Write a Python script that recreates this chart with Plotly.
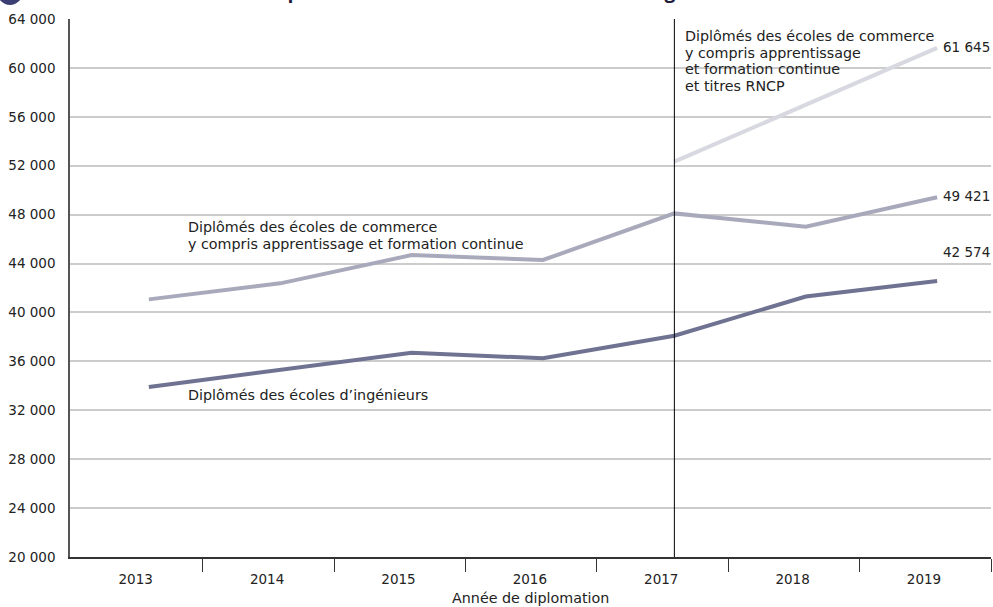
import plotly.graph_objects as go

years = [2013, 2014, 2015, 2016, 2017, 2018, 2019]
ingenieurs = [33900, 35300, 36700, 36250, 38100, 41300, 42574]
commerce = [41070, 42380, 44690, 44290, 48100, 47010, 49421]
rncp_years = [2017, 2018, 2019]
commerce_rncp = [52330, 57000, 61645]

y_ticks = [20000, 24000, 28000, 32000, 36000, 40000, 44000, 48000, 52000, 56000, 60000, 64000]
y_ticktext = [f"{v:,}".replace(",", " ") for v in y_ticks]

title = "Évolution du nombre de diplômés des écoles de commerce et d’ingénieurs"
x_title = "Année de diplomation"
label_rncp = ["Diplômés des écoles de commerce", "y compris apprentissage",
              "et formation continue", "et titres RNCP"]
label_commerce = ["Diplômés des écoles de commerce",
                  "y compris apprentissage et formation continue"]
label_ing = ["Diplômés des écoles d’ingénieurs"]

FONT = "DejaVu Sans, Verdana, sans-serif"
TITLE_FONT = "Open Sans, Liberation Sans, Arial, sans-serif"
FS = 13.5           # tick and value labels
GLYPH = 14.3        # glyph size of the series labels
SPACING_FS = 12.85  # base size giving ~16.7 px line spacing
C_ING = "#6f7290"
C_COM = "#a8aabc"
C_RNCP = "#d8d9e0"
TXT = "#222222"

fmt = lambda v: f"{v:,}".replace(",", " ")

fig = go.Figure()
fig.add_trace(go.Scatter(x=years, y=ingenieurs, mode="lines",
                         line=dict(color=C_ING, width=4), hoverinfo="skip"))
fig.add_trace(go.Scatter(x=years, y=commerce, mode="lines",
                         line=dict(color=C_COM, width=4), hoverinfo="skip"))
fig.add_trace(go.Scatter(x=rncp_years, y=commerce_rncp, mode="lines",
                         line=dict(color=C_RNCP, width=4), hoverinfo="skip"))

# vertical separator at 2017
fig.add_shape(type="line", xref="x", yref="paper", x0=2017, x1=2017, y0=0, y1=1,
              line=dict(color="#000000", width=1))

# title icon
fig.add_shape(type="circle", xref="paper", yref="paper",
              xsizemode="pixel", ysizemode="pixel", xanchor=0, yanchor=1,
              x0=-72.5, x1=-47.5, y0=14, y1=39,
              fillcolor="#3b3e73", line=dict(width=0))

ann = []
ann.append(dict(text="<b>" + title + "</b>", xref="paper", yref="paper", x=0, y=1,
                xanchor="left", yanchor="bottom", xshift=-41, yshift=13, showarrow=False,
                font=dict(family=TITLE_FONT, size=19.5, color="#1e1e3c")))


def block(lines, x, y, xref, yref, xshift, yshift, yanchor):
    txt = "<br>".join(f'<span style="font-size:{GLYPH}px">{t}</span>' for t in lines)
    ann.append(dict(text=txt, x=x, y=y, xref=xref, yref=yref,
                    xanchor="left", yanchor=yanchor, xshift=xshift,
                    yshift=yshift, align="left", showarrow=False,
                    font=dict(family=FONT, size=SPACING_FS, color=TXT)))


block(label_rncp, 2017, 1, "x", "paper", 9, -7, "top")
block(label_commerce, 2013, commerce[0], "x", "y", 37, 45, "bottom")
block(label_ing, 2013, ingenieurs[0], "x", "y", 37, -8, "middle")

for yv, ys in [(commerce_rncp[-1], 1), (commerce[-1], 1), (ingenieurs[-1], 29)]:
    ann.append(dict(text=fmt(yv), x=years[-1], y=yv, xref="x", yref="y",
                    xanchor="left", yanchor="middle", xshift=4, yshift=ys,
                    showarrow=False, font=dict(family=FONT, size=FS, color=TXT)))
ann.append(dict(text=x_title, xref="paper", yref="paper", x=0.5, y=0,
                xanchor="center", yanchor="middle", yshift=-41, showarrow=False,
                font=dict(family=FONT, size=14.3, color=TXT)))

fig.update_layout(
    width=993, height=607,
    margin=dict(l=70, r=2, t=19, b=50),
    paper_bgcolor="white", plot_bgcolor="white",
    showlegend=False,
    annotations=ann,
    font=dict(family=FONT, size=FS, color=TXT),
)
fig.update_xaxes(
    range=[2012.4, 2019.41],
    tickmode="array", tickvals=[y - 0.1 for y in years], ticktext=[str(y) for y in years],
    ticks="", showgrid=False, zeroline=False, ticklabelstandoff=9,
    showline=True, linecolor="#333333", linewidth=1.5,
    tickfont=dict(family=FONT, size=FS, color=TXT),
    minor=dict(tickmode="array", tickvals=[y + 0.41 for y in years],
               ticks="outside", ticklen=13, tickcolor="#333333", tickwidth=1, showgrid=False),
)
fig.update_yaxes(
    range=[20000, 64000],
    tickmode="array", tickvals=y_ticks, ticktext=y_ticktext,
    ticks="", showgrid=True, gridcolor="#cccccc", gridwidth=1.5, zeroline=False,
    ticklabelstandoff=10,
    showline=True, linecolor="#555555", linewidth=1.5,
    tickfont=dict(family=FONT, size=FS, color=TXT),
)

fig.write_html("out.html", config={"displayModeBar": False},
               post_script="document.body.style.margin='0';")
